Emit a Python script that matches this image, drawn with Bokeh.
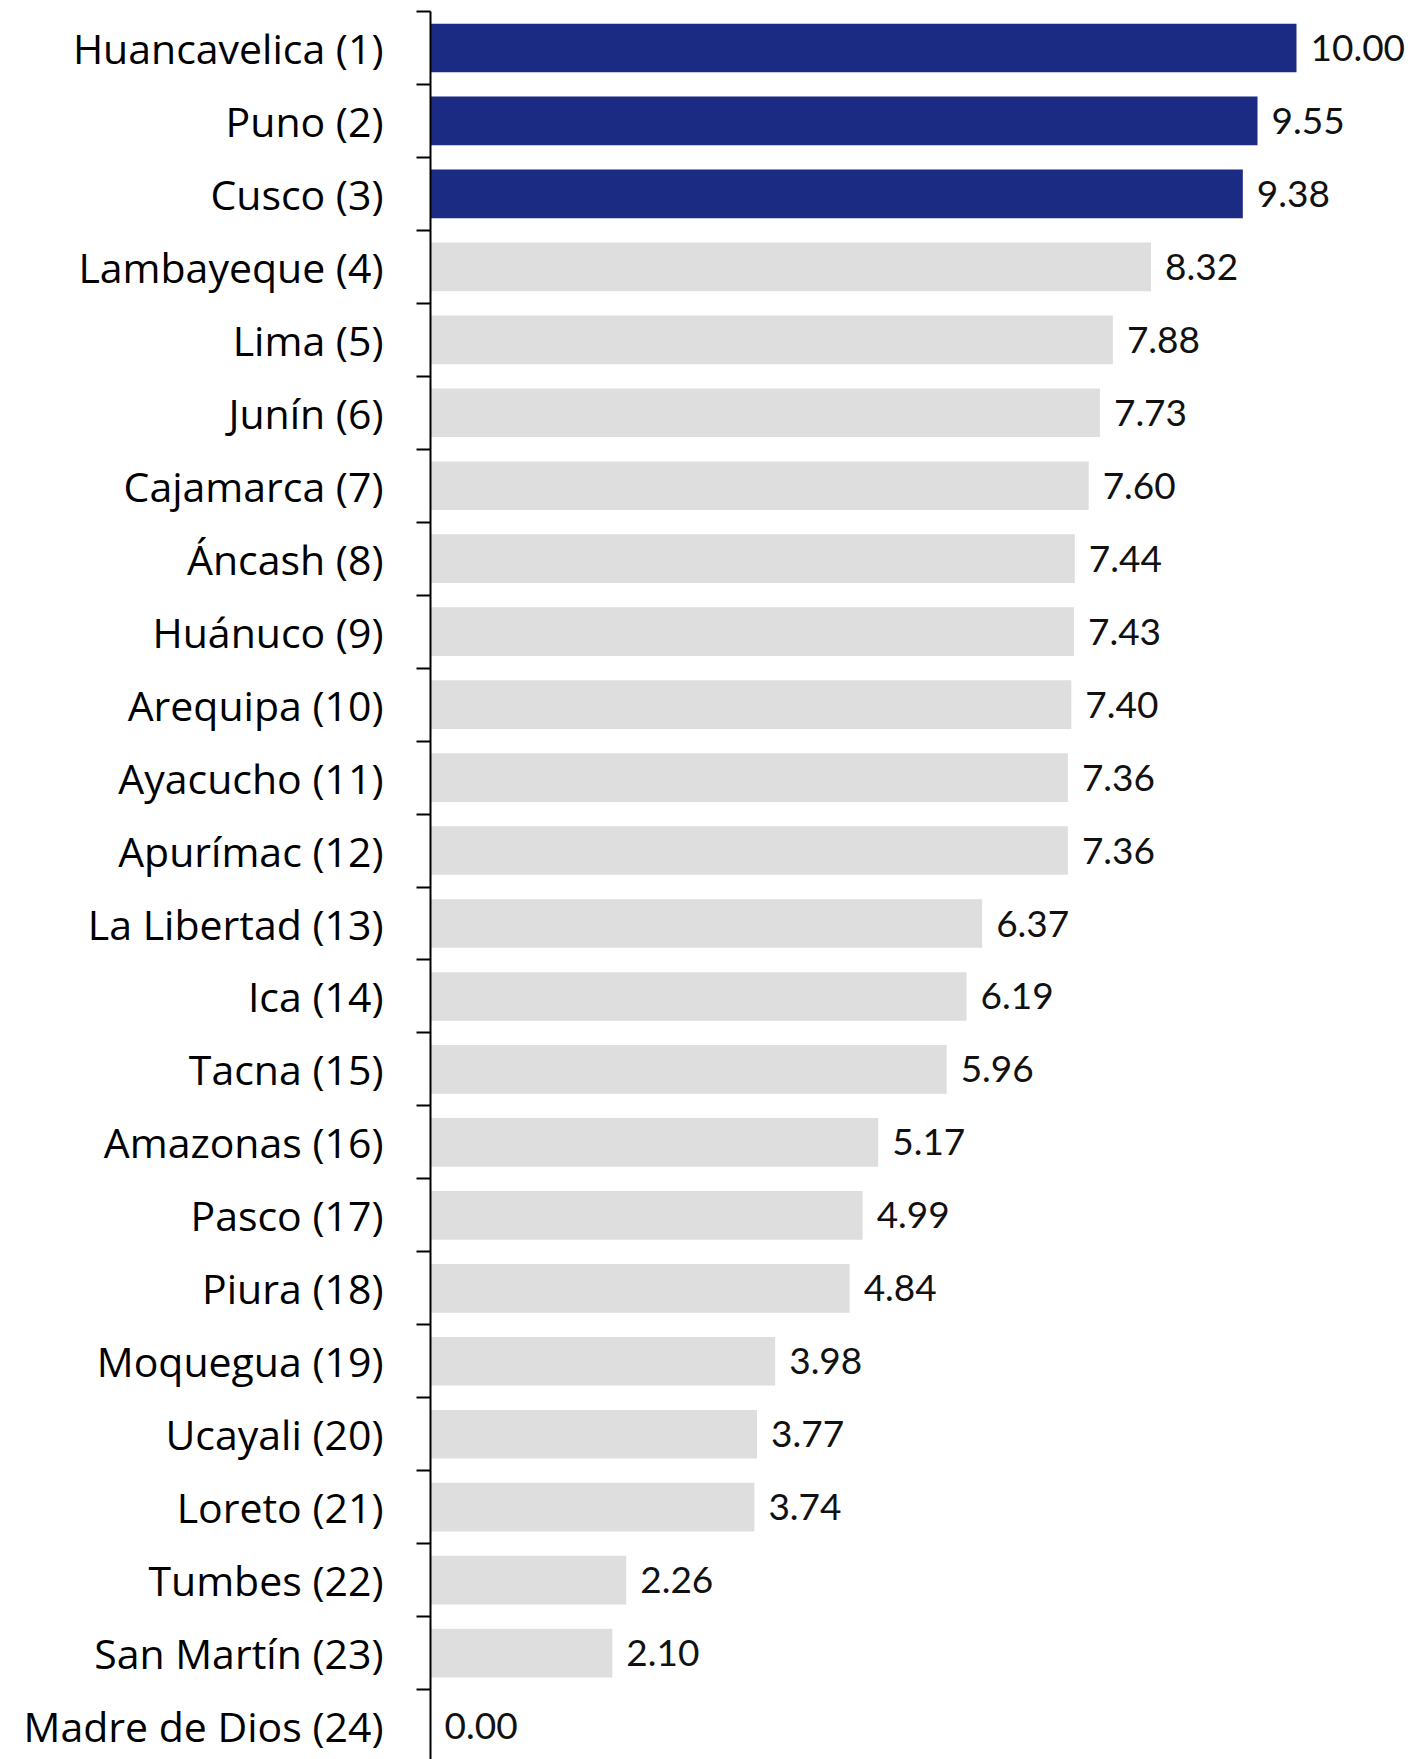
from bokeh.plotting import figure
from bokeh.models import ColumnDataSource, Range1d, FixedTicker
from bokeh.core.properties import value
from bokeh.embed import file_html
from bokeh.resources import INLINE

regions = ["Huancavelica (1)", "Puno (2)", "Cusco (3)", "Lambayeque (4)", "Lima (5)",
           "Junín (6)", "Cajamarca (7)", "Áncash (8)", "Huánuco (9)", "Arequipa (10)",
           "Ayacucho (11)", "Apurímac (12)", "La Libertad (13)", "Ica (14)", "Tacna (15)",
           "Amazonas (16)", "Pasco (17)", "Piura (18)", "Moquegua (19)", "Ucayali (20)",
           "Loreto (21)", "Tumbes (22)", "San Martín (23)", "Madre de Dios (24)"]
scores = [10.00, 9.55, 9.38, 8.32, 7.88, 7.73, 7.60, 7.44, 7.43, 7.40, 7.36, 7.36,
          6.37, 6.19, 5.96, 5.17, 4.99, 4.84, 3.98, 3.77, 3.74, 2.26, 2.10, 0.00]
highlight_top = 3
navy = "#1B2A82"
gray = "#DEDEDE"

n = len(regions)
pos = list(range(n))
colors = [navy if i < highlight_top else gray for i in range(n)]
labels = ["%.2f" % v for v in scores]

src = ColumnDataSource(dict(y=pos, v=scores, c=colors, t=labels))

W, H = 1408, 1759
LEFT, TOP = 430, 11
p = figure(width=W, height=H, output_backend="svg", toolbar_location=None,
           x_range=Range1d(0, (W - LEFT) / 86.6), y_range=Range1d(-0.5 + (H - TOP) / 72.96, -0.5),
           min_border_left=LEFT, min_border_right=0, min_border_top=TOP, min_border_bottom=0)
p.frame_width = W - LEFT
p.frame_height = H - TOP

p.hbar(y="y", left=0, right="v", height=0.667, color="c", source=src, line_color=None)
p.text(x="v", y="y", text="t", source=src, x_offset=14, text_baseline="middle",
       text_align="left", text_font=value("Lato"), text_font_size="37px", text_color="#111111")

p.xaxis.visible = False
p.grid.visible = False
p.outline_line_color = None

ya = p.yaxis[0]
ya.ticker = FixedTicker(ticks=pos, minor_ticks=[i - 0.5 for i in range(n + 1)])
ya.major_label_overrides = {i: regions[i] for i in range(n)}
ya.major_tick_line_color = None
ya.major_tick_out = 0
ya.major_tick_in = 0
ya.minor_tick_out = 14
ya.minor_tick_in = 0
ya.minor_tick_line_color = "black"
ya.minor_tick_line_width = 2
ya.axis_line_color = "black"
ya.axis_line_width = 2
ya.major_label_standoff = 33
ya.major_label_text_font = "Open Sans"
ya.major_label_text_font_size = "41px"
ya.major_label_text_color = "black"

open("out.html", "w").write(file_html(p, INLINE))
